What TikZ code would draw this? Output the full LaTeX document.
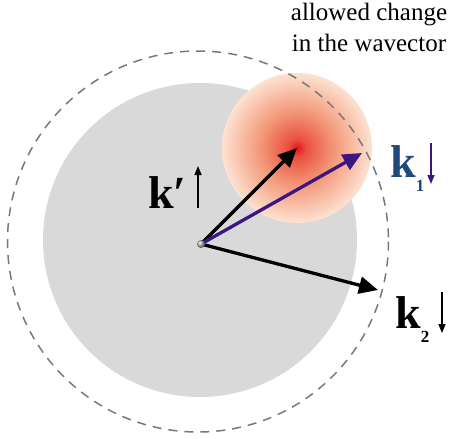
\documentclass[tikz,border=0pt]{standalone}
\usepackage{fontspec}
\setmainfont{Liberation Serif}
\usetikzlibrary{arrows.meta}
\definecolor{diskgray}{RGB}{217,217,217}
\definecolor{dashgray}{RGB}{120,120,120}
\definecolor{kpurple}{RGB}{62,22,130}
\definecolor{kblue}{RGB}{31,73,125}
\definecolor{g0}{RGB}{228,18,30}
\definecolor{g1}{RGB}{234,80,64}
\definecolor{g2}{RGB}{242,150,118}
\definecolor{g3}{RGB}{253,226,210}
\pgfdeclareradialshading{glow}{\pgfpoint{0bp}{0bp}}{color(0bp)=(g0); color(3bp)=(g1); color(12bp)=(g2); color(25bp)=(g3); color(50bp)=(g3)}
\tikzset{
  bigarrow/.style={line width=3.3pt, -{Triangle[length=19pt,width=17pt]}},
  smallarrow/.style={line width=1.5pt, -{Triangle[length=9pt,width=7pt]}},
  klabel/.style={anchor=base west, inner sep=0pt, font=\fontsize{46}{46}\selectfont\bfseries},
  toptext/.style={anchor=base, inner sep=0pt, font=\fontsize{25}{25}\selectfont},
}
\newcommand{\ksub}[1]{\raisebox{-14pt}{\fontsize{17}{17}\selectfont\bfseries #1}}
\begin{document}
\begin{tikzpicture}[x=1pt,y=-1pt]
\useasboundingbox (0,0) rectangle (453,439);
% gray disk
\fill[diskgray] (200,240) circle (157);
% glow
\node[circle, minimum size=150pt, inner sep=0pt, shading=glow] (glow) at (297,148) {};
% dashed circle
\draw[dashgray, line width=1.5pt, dash pattern=on 9pt off 7pt] (198,241.5) circle (190.5);
% arrows
\coordinate (o) at (201,244);
\coordinate (k1tip) at (362,153);
\coordinate (k2tip) at (378,290);
\draw[bigarrow, black] (o) -- (glow.center);
\draw[bigarrow, kpurple] (o) -- (k1tip);
\draw[bigarrow, black] (o) -- (k2tip);
\node[circle, inner sep=0pt, minimum size=8pt, ball color=gray!60] (dot) at (o) {};
% labels
\node[klabel] (kp) at (148,208) {k′};
\coordinate (kpa) at (198,208);
\coordinate (kpb) at (198,166);
\draw[smallarrow] (kpa) -- (kpb);
\node[klabel, text=kblue] (k1) at (390,177) {k\ksub{1}};
\coordinate (k1a) at (431,143);
\coordinate (k1b) at (431,184);
\draw[smallarrow, kpurple] (k1a) -- (k1b);
\node[klabel] (k2) at (395,328) {k\ksub{2}};
\coordinate (k2a) at (442,292);
\coordinate (k2b) at (442,333);
\draw[smallarrow] (k2a) -- (k2b);
\node[toptext] (t1) at (369,20.5) {allowed change};
\node[toptext] (t2) at (369,52) {in the wavector};
\end{tikzpicture}
\end{document}
